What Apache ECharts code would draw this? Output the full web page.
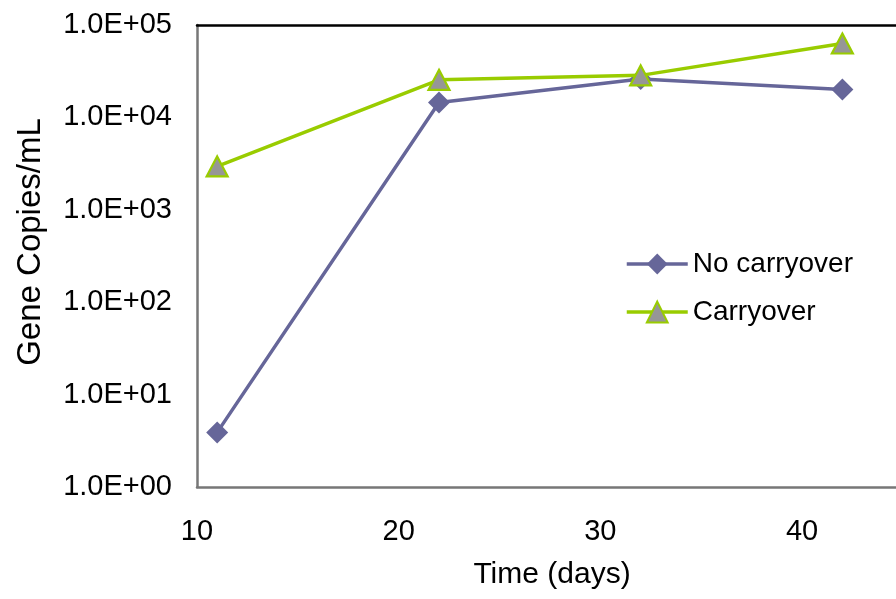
<!DOCTYPE html>
<html><head><meta charset="utf-8">
<script src="https://cdn.jsdelivr.net/npm/echarts@6/dist/echarts.min.js"></script>
<style>html,body{margin:0;padding:0;background:#fff}#c{width:896px;height:599px}</style>
</head><body><div id="c"></div>
<script>
const days = [11, 22, 32, 42];
const noCarryover = [3.9, 1.45e4, 2.6e4, 2.0e4];
const carryover = [2.95e3, 2.55e4, 2.85e4, 6.3e4];
const seriesNames = ['No carryover', 'Carryover'];
const xTicks = [10, 20, 30, 40];

const font = 'Liberation Sans, Arial, sans-serif';
const chart = echarts.init(document.getElementById('c'), null, {renderer:'canvas'});
function fmtY(v){
  const e = Math.round(Math.log10(v));
  return '1.0E+' + (e < 10 ? '0' + e : e);
}
const xMin = 10, xMax = 44.66;
chart.setOption({
  animation:false,
  backgroundColor:'#fff',
  textStyle:{fontFamily:font},
  grid:{left:197, top:25, bottom:112, right:0, show:false},
  legend:{
    orient:'vertical', left:620, top:245, itemWidth:61, itemHeight:26, itemGap:20,
    textStyle:{fontSize:28, color:'#000', fontFamily:font},
    lineStyle:{width:3.5},
    data:seriesNames
  },
  xAxis:[{
    type:'value', min:xMin, max:xMax, interval:10,
    name:'Time (days)', nameLocation:'middle', nameGap:73,
    nameTextStyle:{fontSize:30, color:'#000', fontFamily:font, padding:[0,0,0,11]},
    axisLine:{show:true, lineStyle:{color:'#777', width:2.5}},
    axisTick:{show:false},
    splitLine:{show:false},
    axisLabel:{fontSize:29, color:'#000', margin:30, fontFamily:font, showMaxLabel:false,
      formatter:v => xTicks.includes(v) ? String(v) : ''}
  },{
    type:'value', min:xMin, max:xMax, position:'top',
    axisLine:{show:true, lineStyle:{color:'#000', width:2.5}},
    axisTick:{show:false}, axisLabel:{show:false}, splitLine:{show:false}
  }],
  yAxis:{
    type:'log', logBase:10, min:1, max:1e5,
    name:'Gene Copies/mL', nameLocation:'middle', nameGap:150,
    nameTextStyle:{fontSize:33, color:'#000', fontFamily:font, padding:[0,0,0,28]},
    axisLine:{show:true, lineStyle:{color:'#777', width:2.5}},
    axisTick:{show:false},
    splitLine:{show:false},
    axisLabel:{fontSize:29, color:'#000', margin:25, fontFamily:font, formatter:fmtY}
  },
  series:[
    {name:seriesNames[0], type:'line', data:days.map((d,i)=>[d,noCarryover[i]]),
     symbol:'diamond', symbolSize:[22,22],
     lineStyle:{color:'#666699', width:3.5},
     itemStyle:{color:'#666699', borderColor:'#666699', borderWidth:0}, z:2},
    {name:seriesNames[1], type:'line', data:days.map((d,i)=>[d,carryover[i]]),
     symbol:'triangle', symbolSize:[21,20],
     lineStyle:{color:'#99CC00', width:3.5},
     itemStyle:{color:'#969696', borderColor:'#99CC00', borderWidth:2.2}, z:3}
  ]
});
</script></body></html>
